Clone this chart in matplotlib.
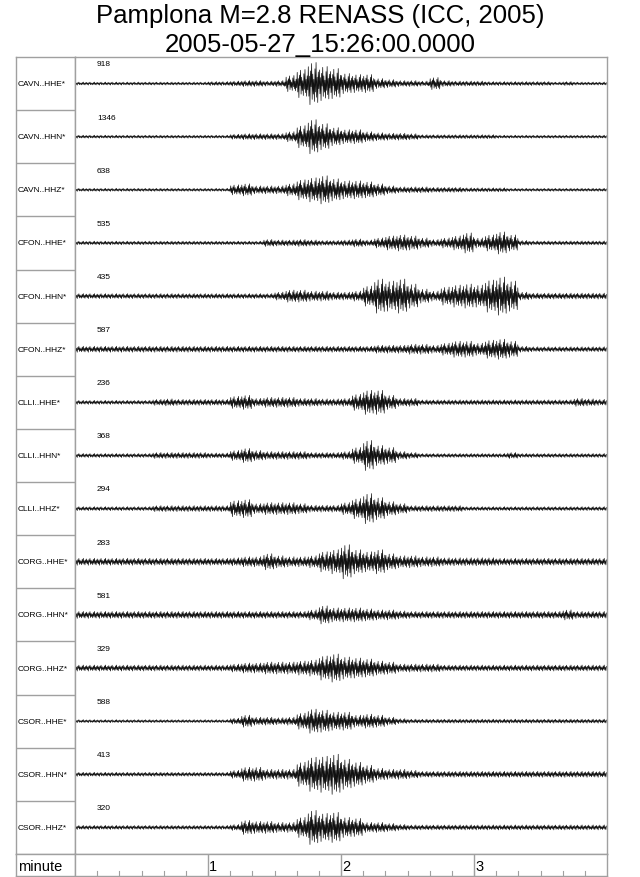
import numpy as np
import matplotlib.pyplot as plt

plt.rcParams['font.family'] = ['Liberation Sans', 'DejaVu Sans']

# station / channel names and peak counts printed above each trace
stations = ['CAVN..HHE*', 'CAVN..HHN*', 'CAVN..HHZ*',
            'CFON..HHE*', 'CFON..HHN*', 'CFON..HHZ*',
            'CLLI..HHE*', 'CLLI..HHN*', 'CLLI..HHZ*',
            'CORG..HHE*', 'CORG..HHN*', 'CORG..HHZ*',
            'CSOR..HHE*', 'CSOR..HHN*', 'CSOR..HHZ*']
peak_counts = [918, 1346, 638, 535, 435, 587, 236, 368, 294, 283, 581, 329, 588, 413, 320]

# amplitude envelope of each trace, one value per 5 s window (0 - 4 min),
# read off the picture in pixels of half-height (row = 53 px)
bin_sec = 5
cavn_hhe = [1.5, 1.5, 1.5, 1.5, 1.5, 1.5, 1.5, 1.5, 1.5, 1.5, 1.5, 1.5, 2, 2,
            2.5, 3, 3, 2.5, 3, 8, 14, 21, 17, 15, 10, 9, 9, 5, 4, 3, 3, 2.5,
            6, 3, 2.5, 2.5, 2.5, 2, 2, 2, 2, 2, 2, 1.5, 2, 1.5, 1.5, 1.5]
cavn_hhn = [1.5, 1.5, 1.5, 1.5, 1.5, 1.5, 1.5, 1.5, 1.5, 1.5, 1.5, 1.5, 1.5, 1.5,
            2.5, 3, 3, 3, 3, 5, 11, 17, 13, 9, 7, 7, 5, 4, 3.5, 3.5, 3,
            2, 2, 2, 2, 2, 2, 2, 1.5, 1.5, 1.5, 1.5, 1.5, 1.5, 1.5, 1.5, 1.5, 1.5]
cavn_hhz = [1.5, 1.5, 1.5, 1.5, 1.5, 1.5, 1.5, 1.5, 1.5, 1.5, 1.5, 1.5, 1.5, 1.5,
            5, 6, 4, 4, 4, 6, 10, 12, 14, 11, 9, 9, 8, 6, 4, 3, 3, 3, 2.5, 2.5, 2.5,
            2, 2, 2, 2, 1.5, 1.5, 1.5, 1.5, 1.5, 1.5, 1.5, 1.5, 1.5]
cfon_hhe = [1.8, 1.8, 1.8, 1.8, 1.8, 1.8, 1.8, 1.8, 1.8, 1.8, 1.8, 1.8, 1.8, 1.8, 1.8, 1.8, 1.8,
            3.5, 3, 3, 3.5, 3, 2.5, 2.5, 3, 4, 3, 5, 7, 8, 7, 5, 3.5, 5, 7, 10, 5, 8, 11, 8, 2.5,
            2, 2, 2, 2, 2, 2, 2]
cfon_hhn = [2.5, 2.5, 2.5, 2.5, 2.5, 2.5, 2.5, 2.5, 2.5, 2.5, 2.5, 2.5, 2.5, 2.5, 2.5, 2.5, 2.5, 2.5,
            4, 6, 6, 5, 5, 4, 4, 5, 10, 17, 15, 17, 12, 7, 5, 9, 11, 12, 11, 16, 19, 15, 4,
            3, 3, 3, 3, 3, 3, 3]
cfon_hhz = [3, 3, 3, 3, 3, 3, 3, 3, 3, 3, 3, 3, 3, 3, 3, 3, 3, 3, 3, 3, 3, 3, 3, 3, 3, 3, 3,
            4, 4, 4, 5, 5, 4, 6, 8, 8, 6, 9, 10, 8, 3,
            2.5, 2.5, 2.5, 2.5, 2.5, 2.5, 2.5]
clli_hhe = [2, 2, 2, 2, 2, 2, 2,
            3, 3.5, 3, 3, 3, 3, 3, 6, 7, 4, 5, 5, 5, 4, 4, 3.5, 3.5, 4, 8, 12, 12, 7, 4, 4,
            2.5, 2.5, 2.5, 2.5, 2.5, 2.5, 2.5, 2.5, 2.5, 2.5, 2.5, 2.5, 2.5, 2.5, 4, 3.5, 3]
clli_hhn = [2, 2, 2, 2, 2, 2, 2,
            3, 3, 3, 3, 3, 2.5, 2.5, 5, 7, 5, 4, 4, 4, 4, 3, 3, 3, 4, 8, 15, 10, 8, 4, 3,
            2, 2, 2, 2, 2, 2, 2, 2, 3, 2, 2, 2, 2, 2, 2, 2, 2]
clli_hhz = [2, 2, 2, 2, 2, 2, 2,
            3, 3, 3, 3, 3, 3, 3, 8, 9, 5, 6, 6, 6, 5, 3.5, 3.5, 3.5, 6, 10, 15, 11, 7, 5,
            3, 3, 3, 3, 3, 2, 2, 2, 2, 2, 2, 2, 2, 2, 2, 2, 2, 2]
corg_hhe = [3.5, 3.5, 3.5, 3.5, 3.5, 3.5, 3.5, 3.5, 3.5, 3.5, 3.5, 3.5, 3.5, 3.5,
            4, 5, 5, 8, 6, 5, 5, 6, 10, 12, 17, 12, 10, 12, 8, 6, 6, 5, 5, 4, 4, 4, 4, 4,
            3.5, 3.5, 3.5, 3.5, 3.5, 3.5, 3.5, 3.5, 3.5, 3.5]
corg_hhn = [3.5, 3.5, 3.5, 3.5, 3.5, 3.5, 3.5, 3.5, 3.5, 3.5, 3.5, 3.5, 3.5, 3.5,
            3.5, 3.5, 3.5, 3.5, 3.5, 3.5, 3.5,
            5, 9, 7, 7, 7, 6, 5, 5, 4,
            3.5, 3.5, 3.5, 3.5, 3.5, 3.5, 3.5, 3.5, 3.5, 3.5, 3.5, 3.5, 3.5, 3.5, 5, 3.5, 3.5, 3.5]
corg_hhz = [3, 3, 3, 3, 3, 3, 3, 3, 3, 3, 3, 3, 3, 3,
            4, 5, 5, 6, 6, 6, 7, 8, 12, 14, 11, 10, 9, 7, 6, 4, 4, 4, 4,
            3, 3, 3, 3, 3, 3, 3, 3, 3, 3, 3, 3, 3, 3, 3]
csor_hhe = [1.5, 1.5, 1.5, 1.5, 1.5, 1.5, 1.5, 1.5, 1.5, 1.5, 1.5, 1.5, 1.5, 1.5,
            3, 6, 4, 4, 3.5, 4, 8, 12, 11, 9, 9, 6, 7, 6, 4, 2.5,
            2, 2, 2, 2, 2, 2, 2, 2, 2, 2, 2, 2, 2, 2, 2, 2, 2, 2]
csor_hhn = [2, 2, 2, 2, 2, 2, 2, 2, 2, 2, 2, 2, 2, 2,
            4, 7, 7, 5, 5, 5, 12, 17, 18, 20, 15, 12, 9, 6, 5, 5, 4,
            3, 3, 3, 3, 3, 3, 3, 3, 3, 3, 3, 3, 3, 3, 3, 3, 3]
csor_hhz = [2, 2, 2, 2, 2, 2, 2, 2, 2, 2, 2, 2, 2, 2,
            3, 7, 6, 6, 5, 5, 10, 17, 14, 15, 10, 9, 5, 5, 4, 3,
            2.5, 2.5, 2.5, 2.5, 2.5, 2.5, 2.5, 2.5, 2.5, 2.5, 2.5, 2.5, 2.5, 2.5, 2.5, 2.5, 2.5, 2.5]

envelopes = [cavn_hhe, cavn_hhn, cavn_hhz, cfon_hhe, cfon_hhn, cfon_hhz,
             clli_hhe, clli_hhn, clli_hhz, corg_hhe, corg_hhn, corg_hhz,
             csor_hhe, csor_hhn, csor_hhz]
minute_ticks = [1, 2, 3]

row_px = 53.0
frame = '#a0a0a0'
# fixed wiggle shape used to draw inside each envelope window
wiggle = np.array([0.3, -0.8, 0.6, -0.35, 1.0, -0.6, 0.15, -0.95, 0.75, -0.45,
                   0.5, -0.2, 0.85, -0.7, 0.4, -1.0, 0.65, -0.3, 0.9, -0.55])

fig = plt.figure(figsize=(6.4, 8.78), dpi=100)
W, H = 640.0, 878.0

def px_axes(x0, y0, x1, y1):
    return fig.add_axes([x0 / W, 1 - y1 / H, (x1 - x0) / W, (y1 - y0) / H])

nrow = len(stations)
ax_lab = px_axes(16, 58, 75, 855)
ax = px_axes(75, 58, 607, 855)
ax_m = px_axes(16, 855, 75, 877)
ax_t = px_axes(75, 855, 607, 877)

for a in (ax_lab, ax, ax_m, ax_t):
    a.set_xticks([])
    a.set_yticks([])
    for s in a.spines.values():
        s.set_color(frame)
        s.set_linewidth(1)

# station label column
ax_lab.set_xlim(0, 1)
ax_lab.set_ylim(nrow, 0)
for i in range(1, nrow):
    ax_lab.axhline(i, color=frame, lw=1)
for i, name in enumerate(stations):
    ax_lab.text(0.035, i + 0.5, name, fontsize=6, va='center', ha='left')

# traces
ax.set_xlim(0, 4)
ax.set_ylim(nrow, 0)
n_sub = len(wiggle)
for i, env in enumerate(envelopes):
    env = np.asarray(env, dtype=float)
    t = np.arange(len(env) * n_sub) * (bin_sec / n_sub) / 60.0
    amp = np.repeat(env, n_sub) * np.tile(wiggle, len(env)) / row_px
    ax.plot(t, i + 0.5 + amp, color='#111111', lw=0.5)
    ax.text(0.165, i + 0.13, str(peak_counts[i]), fontsize=6, va='center', ha='left')

# time axis row
ax_t.set_xlim(0, 4)
ax_t.set_ylim(0, 1)
for m in np.arange(10, 240, 10) / 60.0:
    ax_t.plot([m, m], [0, 0.22], color=frame, lw=0.8)
for m in minute_ticks:
    ax_t.axvline(m, color=frame, lw=1)
    ax_t.text(m + 0.01, 0.45, str(m), fontsize=10.5, va='center', ha='left')
ax_m.text(0.04, 0.45, 'minute', fontsize=10.5, va='center', ha='left', transform=ax_m.transAxes)

fig.text(0.5, 1 - 16 / H, 'Pamplona M=2.8 RENASS (ICC, 2005)', fontsize=18.5, ha='center', va='center')
fig.text(0.5, 1 - 45 / H, '2005-05-27_15:26:00.0000', fontsize=18.5, ha='center', va='center')

fig.savefig('out.png', dpi=100)
